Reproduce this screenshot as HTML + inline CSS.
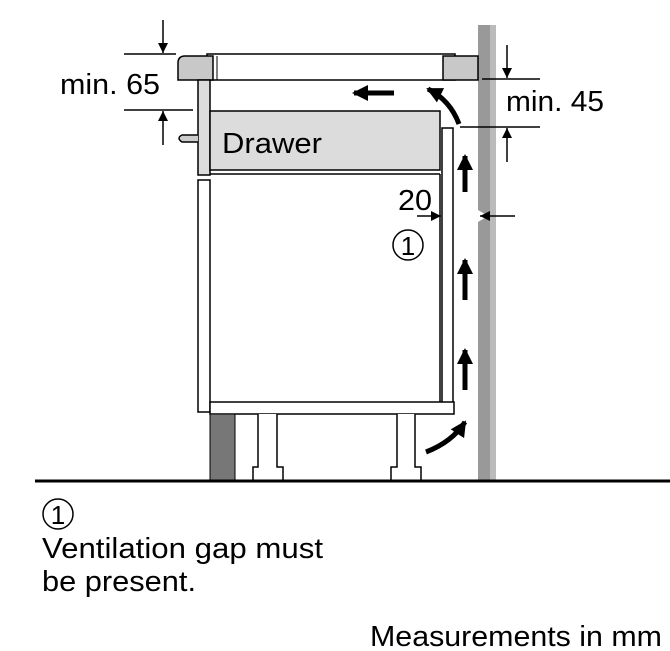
<!DOCTYPE html><html><head><style>body{margin:0;background:#fff}svg{display:block}text{font-family:"Liberation Sans",sans-serif;fill:#000}</style></head><body>
<svg width="670" height="651" viewBox="0 0 670 651" xmlns="http://www.w3.org/2000/svg">
<defs><marker id="a" markerWidth="10" markerHeight="12" refX="10" refY="5" orient="auto" markerUnits="userSpaceOnUse"><path d="M0,0 L10,5 L0,10 Z"/></marker>
<marker id="b" markerWidth="18" markerHeight="18" refX="14" refY="8" orient="auto" markerUnits="userSpaceOnUse"><path d="M0,0 L16,8 L0,16 Z"/></marker></defs>
<rect x="478" y="25" width="12" height="456" fill="#999"/><rect x="490" y="25" width="6" height="456" fill="#bbb"/>
<path d="M478,210 L488,216 L478,222 Z" fill="#fff"/>
<rect x="207" y="54" width="248" height="26" fill="#fff" stroke="#000" stroke-width="1.5"/>
<path d="M185,56 H213 V80 H178 V63 Q178,56 185,56 Z" fill="#c8c8c8" stroke="#000" stroke-width="1.5"/>
<line x1="217" y1="56" x2="217" y2="80" stroke="#000"/>
<rect x="443" y="56" width="35" height="24" fill="#c8c8c8" stroke="#000" stroke-width="1.5"/>
<rect x="198" y="80" width="12" height="95" fill="#ddd" stroke="#000" stroke-width="1.5"/>
<path d="M198,135 H182 Q176,138 182,142 H198" fill="#ccc" stroke="#000" stroke-width="1.5"/>
<rect x="198" y="180" width="12" height="232" fill="#fff" stroke="#000" stroke-width="1.5"/>
<rect x="210" y="111" width="230" height="59" fill="#dcdcdc" stroke="#000" stroke-width="1.5"/>
<line x1="210" y1="174" x2="440" y2="174" stroke="#000" stroke-width="1.5"/>
<line x1="440" y1="174" x2="440" y2="402" stroke="#000" stroke-width="1.5"/>
<text x="222" y="153" font-size="29" textLength="100" lengthAdjust="spacingAndGlyphs">Drawer</text>
<rect x="442" y="128" width="11" height="276" fill="#fff" stroke="#000" stroke-width="1.5"/>
<rect x="210" y="402" width="244" height="12" fill="#fff" stroke="#000" stroke-width="1.5"/>
<rect x="210" y="414" width="25" height="67" fill="#777" stroke="#000"/>
<path d="M258,414 V467 H253 V481 H283 V467 H277 V414" fill="#fff" stroke="#000" stroke-width="1.5"/>
<path d="M397,414 V467 H391 V481 H421 V467 H415 V414" fill="#fff" stroke="#000" stroke-width="1.5"/>
<line x1="35" y1="481" x2="670" y2="481" stroke="#000" stroke-width="3"/>
<g stroke="#000" stroke-width="5" fill="none">
<line x1="465" y1="192" x2="465" y2="156" marker-end="url(#b)"/>
<line x1="465" y1="300" x2="465" y2="260" marker-end="url(#b)"/>
<line x1="465" y1="390" x2="465" y2="350" marker-end="url(#b)"/>
<line x1="394" y1="93" x2="354" y2="93" marker-end="url(#b)"/>
<path d="M426,452 Q452,442 465,422" marker-end="url(#b)"/>
<path d="M459,124 Q450,100 428,89" marker-end="url(#b)"/>
</g>
<g stroke="#000" stroke-width="1.5">
<line x1="124" y1="54" x2="176" y2="54"/><line x1="124" y1="110" x2="193" y2="110"/>
<line x1="163" y1="20" x2="163" y2="53" marker-end="url(#a)"/><line x1="163" y1="145" x2="163" y2="111" marker-end="url(#a)"/>
<line x1="482" y1="79" x2="540" y2="79"/><line x1="460" y1="127" x2="540" y2="127"/>
<line x1="507" y1="45" x2="507" y2="78" marker-end="url(#a)"/><line x1="507" y1="162" x2="507" y2="128" marker-end="url(#a)"/>
<line x1="417" y1="216" x2="441" y2="216" marker-end="url(#a)"/><line x1="515" y1="216" x2="480" y2="216" marker-end="url(#a)"/>
</g>
<text x="60" y="94" font-size="29" textLength="100" lengthAdjust="spacingAndGlyphs">min. 65</text>
<text x="506" y="111" font-size="29" textLength="98" lengthAdjust="spacingAndGlyphs">min. 45</text>
<text x="398" y="210" font-size="29" textLength="34" lengthAdjust="spacingAndGlyphs">20</text>
<circle cx="408" cy="245" r="15" fill="none" stroke="#000" stroke-width="1.5"/><text x="408" y="255" font-size="26" text-anchor="middle">1</text>
<circle cx="58" cy="514" r="15" fill="none" stroke="#000" stroke-width="1.5"/><text x="58" y="524" font-size="26" text-anchor="middle">1</text>
<text x="42" y="558" font-size="29" textLength="281" lengthAdjust="spacingAndGlyphs">Ventilation gap must</text>
<text x="42" y="591" font-size="29" textLength="154" lengthAdjust="spacingAndGlyphs">be present.</text>
<text x="370" y="646" font-size="29" textLength="292" lengthAdjust="spacingAndGlyphs">Measurements in mm</text>
</svg></body></html>
